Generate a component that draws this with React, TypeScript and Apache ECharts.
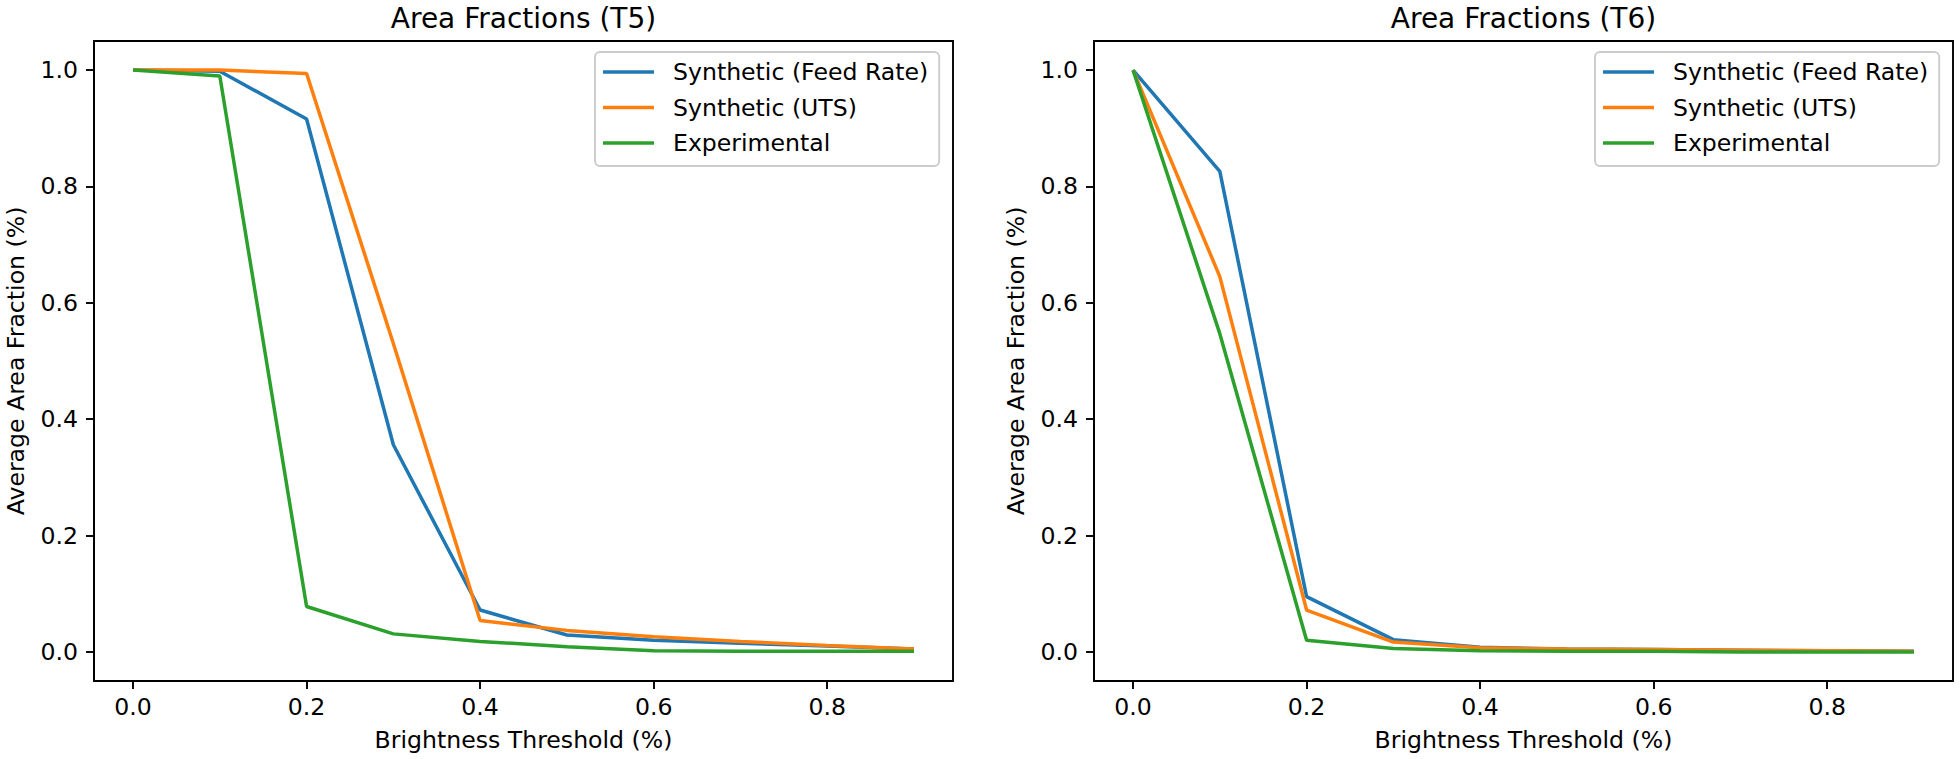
import React, { useEffect, useRef } from "react";
import * as echarts from "echarts";

const thresholds = [0, 0.1, 0.2, 0.3, 0.4, 0.5, 0.6, 0.7, 0.8, 0.9];

const t5FeedRate = [1.0, 0.998, 0.916, 0.356, 0.072, 0.029, 0.02, 0.015, 0.01, 0.005];
const t5Uts = [1.0, 1.0, 0.994, 0.53, 0.054, 0.037, 0.026, 0.018, 0.011, 0.005];
const t5Experimental = [1.0, 0.99, 0.078, 0.031, 0.018, 0.009, 0.002, 0.001, 0.001, 0.001];

const t6FeedRate = [1.0, 0.826, 0.095, 0.021, 0.008, 0.005, 0.004, 0.003, 0.002, 0.001];
const t6Uts = [1.0, 0.645, 0.072, 0.017, 0.007, 0.005, 0.004, 0.003, 0.002, 0.001];
const t6Experimental = [1.0, 0.547, 0.02, 0.006, 0.002, 0.001, 0.001, 0.0, 0.0, 0.0];

const seriesNames = ["Synthetic (Feed Rate)", "Synthetic (UTS)", "Experimental"];
const titles = ["Area Fractions (T5)", "Area Fractions (T6)"];
const xTicks = [0, 0.2, 0.4, 0.6, 0.8];
const yTicks = [0, 0.2, 0.4, 0.6, 0.8, 1.0];
const xLabel = "Brightness Threshold (%)";
const yLabel = "Average Area Fraction (%)";

const COLORS = ["#1f77b4", "#ff7f0e", "#2ca02c"];
const FONT = "DejaVu Sans";
const FS = 23.6;

export default function App() {
  const ref = useRef<HTMLDivElement>(null);
  useEffect(() => {
    document.body.style.margin = "0";
    if (!ref.current) return;
    const chart = echarts.init(ref.current, null, { renderer: "svg" });
    const panels = [
      [t5FeedRate, t5Uts, t5Experimental],
      [t6FeedRate, t6Uts, t6Experimental],
    ];
    const gridLefts = [94, 1094];
    const grids = gridLefts.map((l) => ({
      left: l,
      top: 41,
      width: 859,
      height: 640,
      show: true,
      borderColor: "#000",
      borderWidth: 1.9,
      backgroundColor: "transparent",
    }));
    const xAxes = gridLefts.map((_, i) => ({
      type: "value",
      gridIndex: i,
      min: -0.045,
      max: 0.945,
      name: xLabel,
      nameLocation: "middle",
      nameGap: 59,
      nameTextStyle: { fontFamily: FONT, fontSize: FS, color: "#000", verticalAlign: "middle" },
      splitLine: { show: false },
      axisLine: { show: true, onZero: false, lineStyle: { color: "#000", width: 1.9 } },
      axisTick: { show: true, length: 8, inside: false, customValues: xTicks, lineStyle: { color: "#000", width: 1.9 } },
      axisLabel: {
        show: true,
        customValues: xTicks,
        margin: 14,
        fontFamily: FONT,
        fontSize: FS,
        color: "#000",
        formatter: (v: number) => v.toFixed(1),
      },
    }));
    const yAxes = gridLefts.map((_, i) => ({
      type: "value",
      gridIndex: i,
      min: -0.05,
      max: 1.05,
      name: yLabel,
      nameLocation: "middle",
      nameGap: 78,
      nameTextStyle: { fontFamily: FONT, fontSize: FS, color: "#000", verticalAlign: "middle" },
      splitLine: { show: false },
      axisLine: { show: true, onZero: false, lineStyle: { color: "#000", width: 1.9 } },
      axisTick: { show: true, length: 8, inside: false, customValues: yTicks, lineStyle: { color: "#000", width: 1.9 } },
      axisLabel: {
        show: true,
        customValues: yTicks,
        margin: 16,
        fontFamily: FONT,
        fontSize: FS,
        color: "#000",
        formatter: (v: number) => v.toFixed(1),
      },
    }));
    const series: any[] = [];
    panels.forEach((vals, p) => {
      vals.forEach((arr, s) => {
        series.push({
          type: "line",
          name: seriesNames[s],
          xAxisIndex: p,
          yAxisIndex: p,
          data: thresholds.map((x, k) => [x, arr[k]]),
          showSymbol: false,
          symbol: "none",
          lineStyle: { color: COLORS[s], width: 3.5 },
          itemStyle: { color: COLORS[s] },
          z: 2 + s,
        });
      });
    });
    const legends = gridLefts.map((l) => ({
      orient: "vertical",
      left: l + 501,
      top: 52,
      data: seriesNames,
      selectedMode: false,
      icon: "rect",
      itemWidth: 51,
      itemHeight: 3.5,
      itemGap: 11.5,
      padding: [8, 11, 11, 8],
      backgroundColor: "rgba(255,255,255,0.8)",
      borderColor: "#cccccc",
      borderWidth: 1.9,
      borderRadius: 5,
      textStyle: { fontFamily: FONT, fontSize: FS, color: "#000", lineHeight: 24, padding: [0, 0, 0, 14] },
    }));
    const titleOpts = gridLefts.map((l, i) => ({
      text: titles[i],
      left: l + 429.5,
      top: 4,
      textAlign: "center",
      padding: 0,
      textStyle: { fontFamily: FONT, fontSize: 28, fontWeight: "normal", color: "#000" },
    }));
    chart.setOption({
      animation: false,
      backgroundColor: "#fff",
      title: titleOpts,
      grid: grids,
      xAxis: xAxes,
      yAxis: yAxes,
      legend: legends,
      series,
    });
    return () => chart.dispose();
  }, []);
  return <div ref={ref} style={{ width: 1960, height: 759 }} />;
}
